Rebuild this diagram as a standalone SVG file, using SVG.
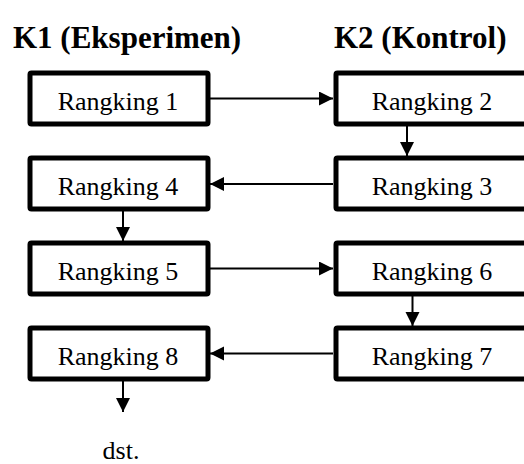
<svg xmlns="http://www.w3.org/2000/svg" width="524" height="464" viewBox="0 0 524 464">
<style>
.box{fill:#fff;stroke:#000;stroke-width:5}
.lbl{font-size:26px;text-anchor:middle;fill:#000}
.ttl{font-size:31px;font-weight:bold;fill:#000}
.con{stroke:#000;stroke-width:2;fill:none;marker-end:url(#ah)}
</style>
<defs>
<marker id="ah" markerUnits="userSpaceOnUse" markerWidth="15" markerHeight="15" refX="14" refY="7" orient="auto">
<path d="M0,0 L14,7 L0,14 z" fill="#000"/>
</marker>
</defs>
<rect width="524" height="464" fill="#fff"/>
<g font-family="'Liberation Serif', 'Times New Roman', serif">
<text class="ttl" x="13" y="48">K1 (Eksperimen)</text>
<text class="ttl" x="334" y="48">K2 (Kontrol)</text>
<g id="connectors">
<line class="con" x1="210" y1="98.5" x2="333" y2="98.5"/>
<line class="con" x1="407" y1="126" x2="407" y2="156"/>
<line class="con" x1="333" y1="184" x2="210" y2="184"/>
<line class="con" x1="123" y1="211" x2="123" y2="241"/>
<line class="con" x1="210" y1="268.5" x2="333" y2="268.5"/>
<line class="con" x1="412.5" y1="296" x2="412.5" y2="326"/>
<line class="con" x1="333" y1="353.5" x2="210" y2="353.5"/>
<line class="con" x1="123" y1="381" x2="123" y2="412"/>
</g>
<g id="n1"><rect class="box" x="30" y="73" width="178" height="51" rx="1.5"/><text class="lbl" x="118" y="110">Rangking 1</text></g>
<g id="n2"><rect class="box" x="336" y="73" width="196" height="51" rx="1.5"/><text class="lbl" x="432" y="110">Rangking 2</text></g>
<g id="n3"><rect class="box" x="336" y="158" width="196" height="51" rx="1.5"/><text class="lbl" x="432" y="195">Rangking 3</text></g>
<g id="n4"><rect class="box" x="30" y="158" width="178" height="51" rx="1.5"/><text class="lbl" x="118" y="195">Rangking 4</text></g>
<g id="n5"><rect class="box" x="30" y="243" width="178" height="51" rx="1.5"/><text class="lbl" x="118" y="280">Rangking 5</text></g>
<g id="n6"><rect class="box" x="336" y="243" width="196" height="51" rx="1.5"/><text class="lbl" x="432" y="280">Rangking 6</text></g>
<g id="n7"><rect class="box" x="336" y="328" width="196" height="51" rx="1.5"/><text class="lbl" x="432" y="365">Rangking 7</text></g>
<g id="n8"><rect class="box" x="30" y="328" width="178" height="51" rx="1.5"/><text class="lbl" x="118" y="365">Rangking 8</text></g>
<g id="dst"><text class="lbl" x="121" y="459">dst.</text></g>
</g>
</svg>
